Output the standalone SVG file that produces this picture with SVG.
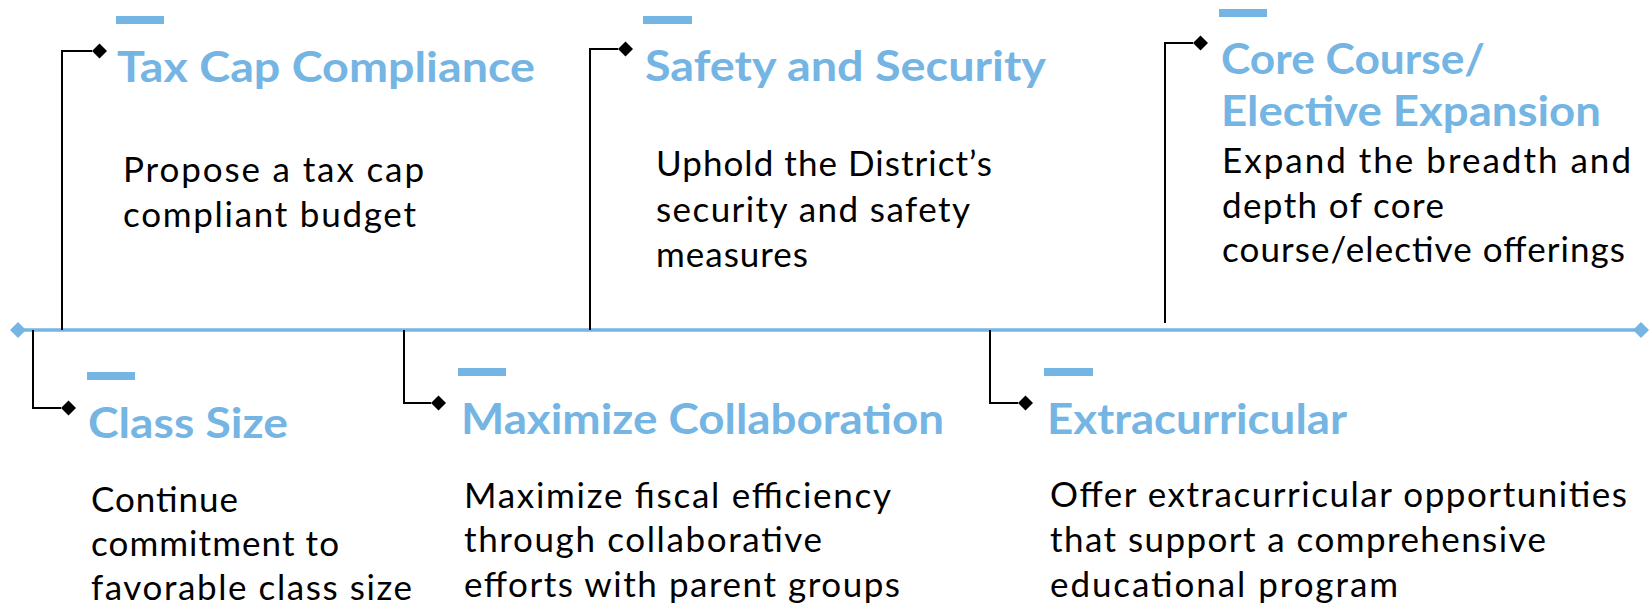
<svg xmlns="http://www.w3.org/2000/svg" width="1650" height="605" viewBox="0 0 1650 605">
<style>
.bar{fill:#75B5E3}
.title{font-family:Lato,"Liberation Sans",sans-serif;font-weight:700;font-size:42px;fill:#75B5E3}
.body{font-family:Lato,"Liberation Sans",sans-serif;font-weight:400;font-size:35px;fill:#000}
.conn{fill:none;stroke:#000;stroke-width:2}
.axis{fill:none;stroke:#75B5E3;stroke-width:3.5}
</style>
<defs>
<marker id="kdia" markerUnits="userSpaceOnUse" viewBox="-8 -8 16 16" refX="-7.5" refY="0" markerWidth="16" markerHeight="16" orient="0">
<path d="M0,-7.5 L7.5,0 L0,7.5 L-7.5,0Z" fill="#000"/>
</marker>
<marker id="bdia" markerUnits="userSpaceOnUse" viewBox="-9 -9 18 18" refX="0" refY="0" markerWidth="18" markerHeight="18" orient="0">
<path d="M0,-8 L8,0 L0,8 L-8,0Z" fill="#75B5E3"/>
</marker>
</defs>
<rect width="1650" height="605" fill="#fff"/>
<g id="connectors">
<path class="axis" d="M18 330 H1641" marker-start="url(#bdia)" marker-end="url(#bdia)"/>
<path class="conn" d="M62 330 V51 H92" marker-end="url(#kdia)"/>
<path class="conn" d="M590 330 V49 H618" marker-end="url(#kdia)"/>
<path class="conn" d="M1165 323 V43 H1193" marker-end="url(#kdia)"/>
<path class="conn" d="M33 330 V408 H61" marker-end="url(#kdia)"/>
<path class="conn" d="M404 330 V403 H431" marker-end="url(#kdia)"/>
<path class="conn" d="M990 330 V403 H1018" marker-end="url(#kdia)"/>
</g>
<g id="tax-cap">
<rect class="bar" x="116" y="16" width="48" height="8"/>
<text class="title" x="117" y="82" textLength="418" lengthAdjust="spacingAndGlyphs">Tax Cap Compliance</text>
<text class="body" x="123" y="182" textLength="301">Propose a tax cap</text>
<text class="body" x="123" y="227" textLength="293">compliant budget</text>
</g>
<g id="safety">
<rect class="bar" x="643" y="16" width="49" height="8"/>
<text class="title" x="645" y="81" textLength="401" lengthAdjust="spacingAndGlyphs">Safety and Security</text>
<text class="body" x="656" y="176" textLength="336">Uphold the District’s</text>
<text class="body" x="656" y="222" textLength="314">security and safety</text>
<text class="body" x="656" y="267" textLength="152">measures</text>
</g>
<g id="core-course">
<rect class="bar" x="1219" y="9" width="48" height="8"/>
<text class="title" x="1221" y="74" textLength="264" lengthAdjust="spacingAndGlyphs">Core Course/</text>
<text class="title" x="1221" y="126" textLength="380" lengthAdjust="spacingAndGlyphs">Elective Expansion</text>
<text class="body" x="1222" y="173" textLength="409">Expand the breadth and</text>
<text class="body" x="1222" y="218" textLength="222">depth of core</text>
<text class="body" x="1222" y="262" textLength="403">course/elective offerings</text>
</g>
<g id="class-size">
<rect class="bar" x="87" y="372" width="48" height="8"/>
<text class="title" x="88" y="438" textLength="200" lengthAdjust="spacingAndGlyphs">Class Size</text>
<text class="body" x="91" y="512" textLength="147">Continue</text>
<text class="body" x="91" y="556" textLength="248">commitment to</text>
<text class="body" x="91" y="600" textLength="321">favorable class size</text>
</g>
<g id="maximize">
<rect class="bar" x="458" y="368" width="48" height="8"/>
<text class="title" x="461" y="434" textLength="483" lengthAdjust="spacingAndGlyphs">Maximize Collaboration</text>
<text class="body" x="464" y="508" textLength="427">Maximize fiscal efficiency</text>
<text class="body" x="464" y="552" textLength="358">through collaborative</text>
<text class="body" x="464" y="597" textLength="436">efforts with parent groups</text>
</g>
<g id="extracurricular">
<rect class="bar" x="1044" y="368" width="49" height="8"/>
<text class="title" x="1047" y="434" textLength="300" lengthAdjust="spacingAndGlyphs">Extracurricular</text>
<text class="body" x="1050" y="507" textLength="577">Offer extracurricular opportunities</text>
<text class="body" x="1050" y="552" textLength="496">that support a comprehensive</text>
<text class="body" x="1050" y="597" textLength="348">educational program</text>
</g>
</svg>
